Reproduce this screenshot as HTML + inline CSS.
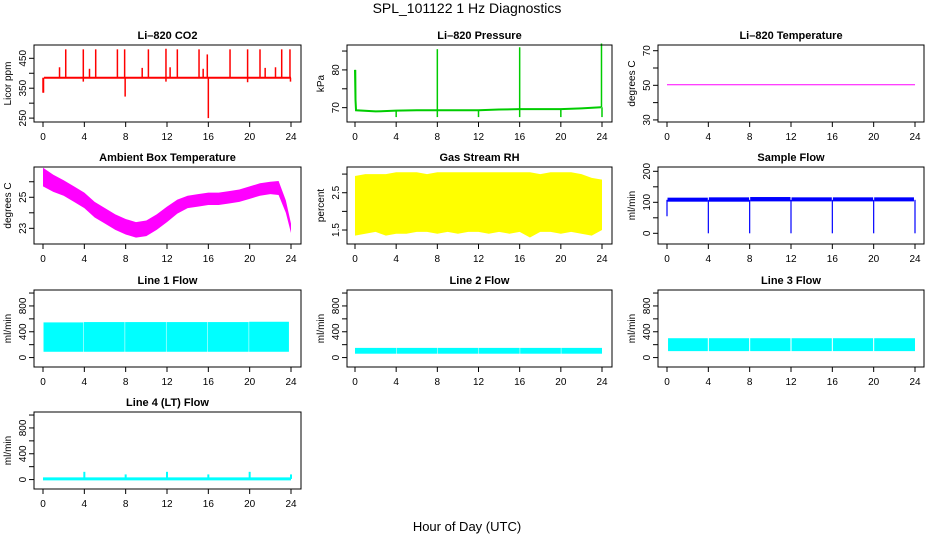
<!DOCTYPE html>
<html><head><meta charset="utf-8">
<style>
body{margin:0;background:#fff;}
svg{display:block;font-family:"Liberation Sans",Arial,sans-serif;}
</style></head>
<body>
<svg id="c" width="936" height="540" viewBox="0 0 936 540">
<rect width="936" height="540" fill="#fff"/>
<text x="467" y="13" text-anchor="middle" font-size="14">SPL_101122  1 Hz Diagnostics</text>
<text x="467" y="531" text-anchor="middle" font-size="13">Hour of Day (UTC)</text>
</svg>
<script>
// ---- data ----
const xTicks=[0,4,8,12,16,20,24];
// CO2
const co2BaseHours=[0.1,24];
const co2BaseVals=[385,385];
const co2SpikeHours=[0,0.05,2.2,3.9,5.1,7.2,7.9,7.95,10.2,11.9,13.0,15.1,15.9,16.0,18.1,19.8,21.0,23.1,23.9,1.6,4.5,9.6,12.3,15.5,21.5,22.5,3.9,11.9,19.8,23.95];
const co2SpikeVals=[335,335,480,480,480,480,480,322,480,482,480,480,463,250,480,480,480,480,480,420,415,418,420,415,418,420,372,372,370,372];
// Pressure
const presHours=[0,0.05,0.1,2,4,6,8,10,12,14,16,18,20,22,23.9];
const presVals=[80,72,69.3,69.0,69.2,69.3,69.3,69.3,69.3,69.5,69.6,69.6,69.6,69.8,70.1];
const presSpikeHours=[0.05,8,16,23.95,4,8,12,16,20,24];
const presSpikeVals=[80,85.5,86,87,67.5,67.5,67.5,67.5,67.5,67.5];
// Li-820 temperature
const tempHours=[0,24];
const tempVals=[50.3,50.3];
// Ambient box temperature
const ambHours=[0,1,2,3,4,5,6,7,8,9,10,11,12,13,14,15,16,17,18,19,20,21,22,22.8,23.5,24];
const ambCenter=[26.3,25.9,25.6,25.2,24.8,24.2,23.8,23.4,23.1,22.9,23.0,23.4,23.9,24.4,24.7,24.8,24.9,24.9,25.0,25.1,25.3,25.5,25.6,25.6,24.4,23.0];
const ambHalf=[0.6,0.55,0.5,0.5,0.5,0.5,0.5,0.5,0.5,0.5,0.5,0.5,0.5,0.45,0.4,0.4,0.4,0.4,0.4,0.4,0.4,0.4,0.4,0.45,0.4,0.3];
// Gas stream RH
const rhHours=[0,1,2,3,4,5,6,7,8,9,10,11,12,13,14,15,16,17,18,19,20,21,22,23,24];
const rhLow=[1.35,1.4,1.45,1.35,1.4,1.4,1.45,1.45,1.4,1.45,1.4,1.45,1.45,1.4,1.45,1.4,1.45,1.3,1.45,1.45,1.4,1.45,1.4,1.35,1.5];
const rhHigh=[2.95,3.0,3.0,3.0,3.05,3.05,3.05,3.0,3.05,3.05,3.05,3.05,3.05,3.05,3.05,3.05,3.05,3.05,3.0,3.05,3.05,3.05,3.0,2.9,2.85];
// Sample flow
const sfStart=[0.05,4.05,8.05,12.05,16.05,20.05];
const sfEnd=[3.95,7.95,11.95,15.95,19.95,23.9];
const sfLow=[102,102,103,103,103,103];
const sfHigh=[115,116,117,116,116,116];
const sfDipHours=[0,4,8,12,16,20,24];
const sfDipVals=[55,0,0,0,0,0,0];
// Line flows
const l1Start=[0.05,3.95,7.95,11.95,15.95,19.95];
const l1End=[3.9,7.9,11.9,15.9,19.9,23.8];
const l1Low=[90,90,90,90,90,90];
const l1High=[545,550,550,550,550,555];
const l2Start=[0,4.05,8.05,12.05,16.05,20.05];
const l2End=[4,8,12,16,20,24];
const l2Low=[60,60,60,60,60,60];
const l2High=[150,150,150,150,150,150];
const l3Start=[0.1,4.05,8.05,12.05,16.05,20.05];
const l3End=[3.95,7.95,11.95,15.95,19.95,24];
const l3Low=[100,100,100,100,100,100];
const l3High=[300,300,300,300,300,300];
const l4BaseHours=[0,24];
const l4BaseVals=[10,10];
const l4SpikeHours=[4,8,12,16,20,24];
const l4SpikeVals=[120,80,120,80,120,80];

// ---- layout ----
const svg=document.getElementById('c');
const NS='http://www.w3.org/2000/svg';
function el(t,a,p){const e=document.createElementNS(NS,t);for(const k in a)e.setAttribute(k,a[k]);(p||svg).appendChild(e);return e;}
const cols=[{l:34,r:301,x0:43,x24:291},{l:347,r:612,x0:355,x24:602},{l:658,r:924,x0:667,x24:915}];
const rows=[45,167,290,412];
const H=77;
const flowT=[0,200,400,600,800,1000], flowL=['0','','400','','800',''];
const panels=[
 {name:'co2',title:'Li\u2013820 CO2',ylab:'Licor ppm',c:0,r:0,ylim:[237,494.5],t:[250,300,350,400,450],tl:['250','','350','','450']},
 {name:'pressure',title:'Li\u2013820 Pressure',ylab:'kPa',c:1,r:0,ylim:[66.2,86.6],t:[70,75,80,85],tl:['70','','80','']},
 {name:'li820-temp',title:'Li\u2013820 Temperature',ylab:'degrees C',c:2,r:0,ylim:[28.8,73.3],t:[30,40,50,60,70],tl:['30','','50','','70']},
 {name:'ambient-temp',title:'Ambient Box Temperature',ylab:'degrees C',c:0,r:1,ylim:[21.99,26.95],t:[23,24,25,26],tl:['23','','25','']},
 {name:'rh',title:'Gas Stream RH',ylab:'percent',c:1,r:1,ylim:[1.125,3.19],t:[1.5,2,2.5,3],tl:['1.5','','2.5','']},
 {name:'sample-flow',title:'Sample Flow',ylab:'ml/min',c:2,r:1,ylim:[-34.5,213.9],t:[0,50,100,150,200],tl:['0','','100','','200']},
 {name:'line1-flow',title:'Line 1 Flow',ylab:'ml/min',c:0,r:2,ylim:[-146,1047],t:flowT,tl:flowL},
 {name:'line2-flow',title:'Line 2 Flow',ylab:'ml/min',c:1,r:2,ylim:[-146,1047],t:flowT,tl:flowL},
 {name:'line3-flow',title:'Line 3 Flow',ylab:'ml/min',c:2,r:2,ylim:[-146,1047],t:flowT,tl:flowL},
 {name:'line4-flow',title:'Line 4 (LT) Flow',ylab:'ml/min',c:0,r:3,ylim:[-146,1047],t:flowT,tl:flowL}
];
const P={};
panels.forEach(p=>{
 const c=cols[p.c], top=rows[p.r], bot=top+H;
 const g=el('g',{});
 
 
 p.g=g;
 p.sx=h=>c.x0+(c.x24-c.x0)*h/24;
 p.sy=v=>bot-(v-p.ylim[0])/(p.ylim[1]-p.ylim[0])*H;
 p.top=top;p.bot=bot;p.cl=c.l;p.cr=c.r;
 const tt=el('text',{x:(c.l+c.r)/2,y:top-6,'text-anchor':'middle','font-size':11,'font-weight':'bold'},g);
 tt.textContent=p.title;
 
 
 const yl=el('text',{transform:`translate(${c.l-23},${(top+bot)/2}) rotate(-90)`,'text-anchor':'middle','font-size':10},g);
 yl.textContent=p.ylab;
 
 
 const xa=el('g',{},g);
 
 
 xTicks.forEach(h=>{
  const x=p.sx(h);
  el('line',{x1:x,x2:x,y1:bot,y2:bot+5,stroke:'#000'},xa);
  const t=el('text',{x:x,y:bot+18,'text-anchor':'middle','font-size':10},xa);t.textContent=h;
 });
 const ya=el('g',{},g);
 
 
 p.t.forEach((v,i)=>{
  const y=p.sy(v);
  el('line',{x1:c.l-5,x2:c.l,y1:y,y2:y,stroke:'#000'},ya);
  if(p.tl[i]){const t=el('text',{transform:`translate(${c.l-8},${y}) rotate(-90)`,'text-anchor':'middle','font-size':10},ya);t.textContent=p.tl[i];}
 });
 P[p.name]=p;
});
function line(p,hs,vs,col,w){
 const pts=hs.map((h,i)=>p.sx(h)+','+p.sy(vs[i])).join(' ');
 const e=el('polyline',{points:pts,fill:'none',stroke:col,'stroke-width':w},p.g);
 return e;
}
function spikes(p,hs,vs,base,col,w){
 hs.forEach((h,i)=>{
  const e=el('line',{x1:p.sx(h),x2:p.sx(h),y1:p.sy(base(h)),y2:p.sy(vs[i]),stroke:col,'stroke-width':w},p.g);
  
  
 });
}
function rects(p,s,e,lo,hi,col){
 s.forEach((h,i)=>{
  const r=el('rect',{x:p.sx(h),y:p.sy(hi[i]),width:p.sx(e[i])-p.sx(h),height:p.sy(lo[i])-p.sy(hi[i]),fill:col},p.g);
  
  
 });
}
function band(p,hs,lo,hi,col){
 const pts=hs.map((h,i)=>p.sx(h)+','+p.sy(hi[i])).concat(hs.slice().reverse().map((h,j)=>{const i=hs.length-1-j;return p.sx(h)+','+p.sy(lo[i]);})).join(' ');
 const e=el('polygon',{points:pts,fill:col},p.g);
 
 
}
function interp(hs,vs){return h=>{for(let i=1;i<hs.length;i++){if(h<=hs[i]){const f=(h-hs[i-1])/(hs[i]-hs[i-1]||1);return vs[i-1]+f*(vs[i]-vs[i-1]);}}return vs[vs.length-1];};}

// CO2
let e=line(P.co2,co2BaseHours,co2BaseVals,'#ff0000',2);

spikes(P.co2,co2SpikeHours,co2SpikeVals,()=>385,'#ff0000',1.5);
// pressure
e=line(P.pressure,presHours,presVals,'#00cc00',2);

spikes(P.pressure,presSpikeHours,presSpikeVals,interp(presHours,presVals),'#00cc00',1.5);
// temp
e=line(P['li820-temp'],tempHours,tempVals,'#ff00ff',1);

// ambient
band(P['ambient-temp'],ambHours,ambCenter.map((c,i)=>c-ambHalf[i]),ambCenter.map((c,i)=>c+ambHalf[i]),'#ff00ff');
// rh
band(P.rh,rhHours,rhLow,rhHigh,'#ffff00');
// sample flow
rects(P['sample-flow'],sfStart,sfEnd,sfLow,sfHigh,'#0000ff');
spikes(P['sample-flow'],sfDipHours,sfDipVals,()=>108,'#0000ff',1.2);
// line flows
rects(P['line1-flow'],l1Start,l1End,l1Low,l1High,'#00ffff');
rects(P['line2-flow'],l2Start,l2End,l2Low,l2High,'#00ffff');
rects(P['line3-flow'],l3Start,l3End,l3Low,l3High,'#00ffff');
e=line(P['line4-flow'],l4BaseHours,l4BaseVals,'#00ffff',3);

spikes(P['line4-flow'],l4SpikeHours,l4SpikeVals,()=>10,'#00ffff',2);
// boxes on top
panels.forEach(p=>{
 const b=el('rect',{x:p.cl,y:p.top,width:p.cr-p.cl,height:H,fill:'none',stroke:'#000','stroke-width':1},p.g);
 
 
});
</script>
</body></html>
